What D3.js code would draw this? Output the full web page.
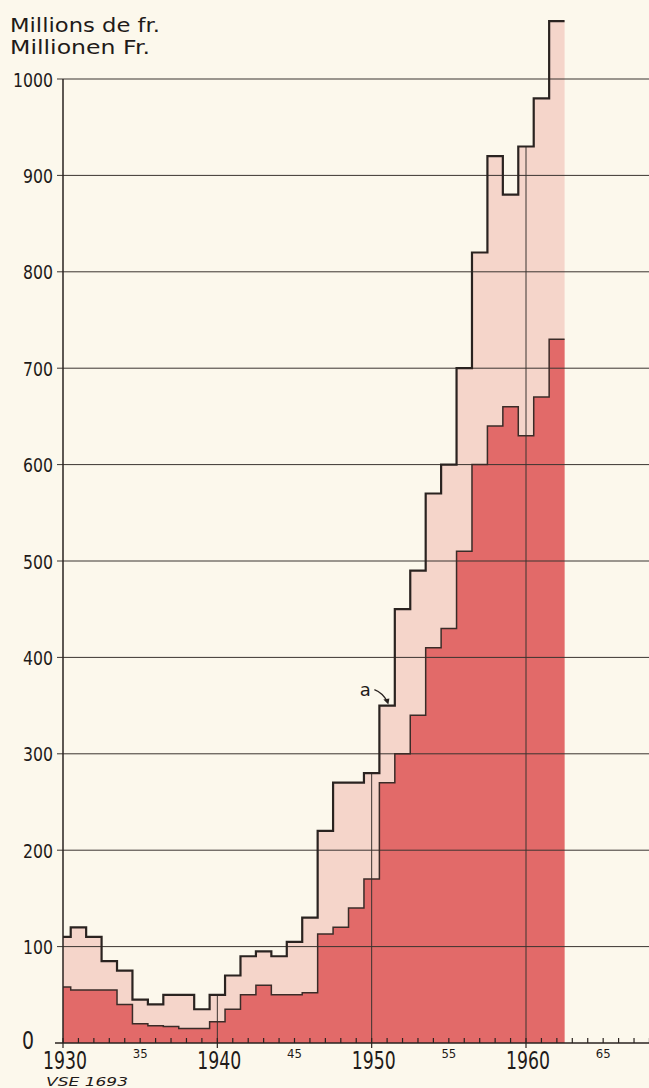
<!DOCTYPE html>
<html><head><meta charset="utf-8">
<script src="https://cdn.jsdelivr.net/npm/d3@7"></script>
<style>
html,body{margin:0;padding:0;background:#fcf8ec;}
svg{display:block;}
text{fill:#1f1b19;}
</style></head>
<body><svg id="c" width="649" height="1088"></svg>
<script>
// ---- data ----
const years = d3.range(1930, 1963);
const totalValues = [110,120,110,85,75,45,40,50,50,35,50,70,90,95,90,105,130,220,270,270,280,350,450,490,570,600,700,820,920,880,930,980,1060];
const lowerValues = [58,55,55,55,40,20,18,17,15,15,22,35,50,60,50,50,52,113,120,140,170,270,300,340,410,430,510,600,640,660,630,670,730];
const yTicks = [0,100,200,300,400,500,600,700,800,900,1000];
const xMajorTicks = [1930,1940,1950,1960];
const xMinorTicks = [1935,1945,1955,1965];
const xMinorLabels = ["35","45","55","65"];
const decadeLines = [1940,1950,1960];
const titleLines = ["Millions de fr.","Millionen Fr."];
const sourceNote = "VSE 1693";

// ---- scales ----
const svg = d3.select("#c");
const x = d3.scaleLinear().domain([1930,1960]).range([63,526]);
const y = d3.scaleLinear().domain([0,1000]).range([1043,79]);
const FONT = "'DejaVu Sans Condensed','DejaVu Sans',sans-serif";

function stepPoints(vals){
  const pts = years.map((yr,i)=>[Math.max(yr-0.5,1930), vals[i]]);
  pts.push([years[years.length-1]+0.5, vals[vals.length-1]]);
  return pts;
}
const topPts = stepPoints(totalValues);
const lowPts = stepPoints(lowerValues);

const area = d3.area().x(d=>x(d[0])).y0(y(0)).y1(d=>y(d[1])).curve(d3.curveStepAfter);
const line = d3.line().x(d=>x(d[0])).y(d=>y(d[1])).curve(d3.curveStepAfter);

// fills
svg.append("path").attr("d", area(topPts)).attr("fill", "#f5d5ca");
svg.append("path").attr("d", area(lowPts)).attr("fill", "#e26a69");

// gridlines
svg.append("g").selectAll("line").data(yTicks.filter(v=>v>0)).join("line")
  .attr("x1", 57).attr("x2", 649)
  .attr("y1", d=>y(d)).attr("y2", d=>y(d))
  .attr("stroke", "#3b3430").attr("stroke-width", 1);

// decade vertical lines inside fill
svg.append("g").selectAll("line").data(decadeLines).join("line")
  .attr("x1", d=>x(d)).attr("x2", d=>x(d))
  .attr("y1", y(0)).attr("y2", d=>y(totalValues[years.indexOf(d)]))
  .attr("stroke", "#3b3430").attr("stroke-width", 1);

// outlines
svg.append("path").attr("d", line(lowPts)).attr("fill","none")
  .attr("stroke","#3a2c28").attr("stroke-width",1.5);
svg.append("path").attr("d", line(topPts)).attr("fill","none")
  .attr("stroke","#2a2320").attr("stroke-width",2.2);

// axes
svg.append("line").attr("x1",x(1930)).attr("x2",x(1930)).attr("y1",y(0)).attr("y2",y(1000))
  .attr("stroke","#2a2320").attr("stroke-width",1.5);
svg.append("line").attr("x1",55).attr("x2",649).attr("y1",y(0)).attr("y2",y(0))
  .attr("stroke","#2a2320").attr("stroke-width",1.6);

const allYears = d3.range(1930, 1970);
svg.append("g").selectAll("line").data(allYears).join("line")
  .attr("x1", d=>x(d)).attr("x2", d=>x(d))
  .attr("y1", y(0)-5).attr("y2", d=> d%10===0 ? y(0)+5 : y(0))
  .attr("stroke","#2a2320").attr("stroke-width",1.2);

// y labels
svg.append("g").selectAll("text").data(yTicks).join("text")
  .attr("x", d=> d===0 ? 22 : 53)
  .attr("y", d=> y(d) + (d===0 ? 6 : 7.5))
  .attr("text-anchor", d=> d===0 ? "start" : "end")
  .style("font-family", FONT)
  .style("font-size", d=> d===0 ? "24px" : "20px")
  .attr("textLength", d=> d===0 ? 12 : String(d).length*10)
  .attr("lengthAdjust","spacingAndGlyphs")
  .text(d=>d);

// x labels
svg.append("g").selectAll("text").data(xMajorTicks).join("text")
  .attr("x", d=>x(d)+2).attr("y", 1069)
  .attr("text-anchor","middle")
  .style("font-family", FONT)
  .style("font-size","25px")
  .attr("textLength", 44).attr("lengthAdjust","spacingAndGlyphs")
  .text(d=>d);
svg.append("g").selectAll("text").data(xMinorTicks).join("text")
  .attr("x", d=>x(d)).attr("y", 1058)
  .attr("text-anchor","middle")
  .style("font-family", FONT)
  .style("font-size","13px")
  .text((d,i)=>xMinorLabels[i]);

// title
svg.append("g").selectAll("text").data(titleLines).join("text")
  .attr("x", 10).attr("y", (d,i)=> 32 + i*22)
  .style("font-family","'DejaVu Sans',sans-serif")
  .style("font-size","19px")
  .attr("textLength",(d,i)=> i===0 ? 150 : 140)
  .attr("lengthAdjust","spacingAndGlyphs")
  .text(d=>d);

// source note
svg.append("text").attr("x", 46).attr("y", 1086)
  .style("font-family","'DejaVu Sans',sans-serif").style("font-style","italic")
  .style("font-size","13px").attr("textLength",82).attr("lengthAdjust","spacingAndGlyphs")
  .text(sourceNote);

// annotation "a"
const ay = 1951;
const ax0 = x(ay-0.5), ayv = y(totalValues[years.indexOf(ay)]);
svg.append("text").attr("x", ax0-14).attr("y", ayv-10).attr("text-anchor","middle")
  .style("font-family","'DejaVu Sans',sans-serif").style("font-size","18px").text("a");
svg.append("path")
  .attr("d", `M${ax0-5},${ayv-16} Q${ax0+3},${ayv-13} ${ax0+8},${ayv-4}`)
  .attr("fill","none").attr("stroke","#2a2320").attr("stroke-width",1.4);
svg.append("path")
  .attr("d", `M${ax0+9},${ayv-1} L${ax0+4},${ayv-6} L${ax0+10},${ayv-7} Z`)
  .attr("fill","#2a2320");
</script></body></html>
